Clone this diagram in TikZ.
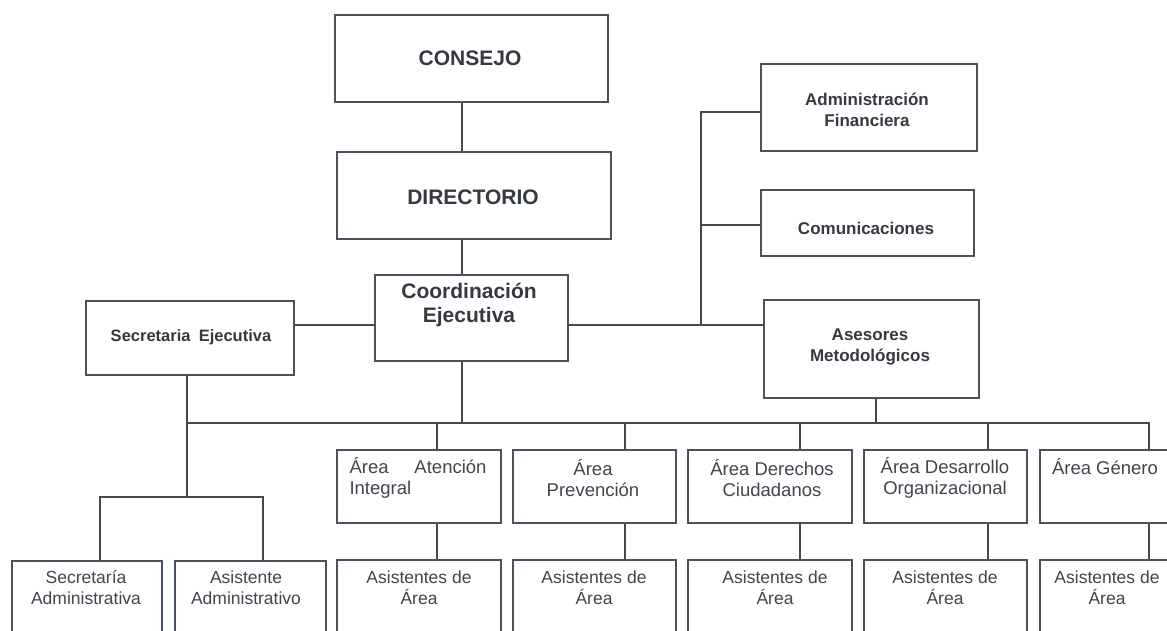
\documentclass[tikz,border=0pt]{standalone}
\usepackage{fontspec}
\setmainfont{Liberation Sans}
\definecolor{linec}{HTML}{45484D}
\definecolor{boxc}{HTML}{4A525E}
\definecolor{txtc}{HTML}{353941}
\definecolor{txtl}{HTML}{40454E}
\tikzset{
  orgbox/.style={draw=boxc, line width=1.6pt, rectangle, inner sep=0pt, anchor=north west},
  conn/.style={draw=linec, line width=1.7pt},
  ttlbig/.style={text=txtc, align=center, inner sep=0pt, font=\fontsize{21}{24}\selectfont\bfseries},
  ttlmid/.style={text=txtc, align=center, inner sep=0pt, font=\fontsize{17}{21}\selectfont\bfseries},
  arealbl/.style={text=txtl, align=center, inner sep=0pt, font=\fontsize{18.5}{21}\selectfont},
  asislbl/.style={text=txtl, align=center, inner sep=0pt, font=\fontsize{17.5}{21}\selectfont},
}
\begin{document}
\begin{tikzpicture}[x=1pt, y=-1pt]
\useasboundingbox (0,0) rectangle (1167,631);
\clip (0,0) rectangle (1167,631);
\fill[white] (0,0) rectangle (1167,631);

% boxes
\node[orgbox, minimum width=273pt, minimum height=87pt] (consejo) at (334,14) {};
\node[orgbox, minimum width=274pt, minimum height=87pt] (directorio) at (336,151) {};
\node[orgbox, minimum width=193pt, minimum height=86pt] (coord) at (374,274) {};
\node[orgbox, minimum width=208pt, minimum height=74pt] (secej) at (85,300) {};
\node[orgbox, minimum width=216pt, minimum height=87pt] (adminfin) at (760,63) {};
\node[orgbox, minimum width=213pt, minimum height=66pt] (com) at (760,189) {};
\node[orgbox, minimum width=215pt, minimum height=98pt] (asesores) at (763,299) {};

\node[orgbox, minimum width=164pt, minimum height=73pt] (a1) at (336,449) {};
\node[orgbox, minimum width=163pt, minimum height=73pt] (a2) at (512,449) {};
\node[orgbox, minimum width=164pt, minimum height=73pt] (a3) at (687,449) {};
\node[orgbox, minimum width=163pt, minimum height=73pt] (a4) at (863,449) {};
\node[orgbox, minimum width=164pt, minimum height=73pt] (a5) at (1039,449) {};

\node[orgbox, minimum width=150pt, minimum height=100pt] (secadm) at (11,560) {};
\node[orgbox, minimum width=151pt, minimum height=100pt] (asisadm) at (174,560) {};
\node[orgbox, minimum width=164pt, minimum height=100pt] (b1) at (336,559) {};
\node[orgbox, minimum width=163pt, minimum height=100pt] (b2) at (512,559) {};
\node[orgbox, minimum width=164pt, minimum height=100pt] (b3) at (687,559) {};
\node[orgbox, minimum width=163pt, minimum height=100pt] (b4) at (863,559) {};
\node[orgbox, minimum width=164pt, minimum height=100pt] (b5) at (1039,559) {};

% texts
\node[ttlbig] (consejot) at (470,58) {CONSEJO};
\node[ttlbig] (directoriot) at (473,197) {DIRECTORIO};
\node[ttlbig] (coordt) at (469,305) {Coordinación\\Ejecutiva};
\node[ttlmid, font=\fontsize{16.5}{20}\selectfont\bfseries] (secejt) at (191,337) {Secretaria\enspace Ejecutiva};
\node[ttlmid] (adminfint) at (867,110) {Administración\\Financiera};
\node[ttlmid] (comt) at (866,228) {Comunicaciones};
\node[ttlmid] (asesorest) at (870,347) {Asesores\\Metodológicos};

\node[arealbl, text width=137pt, align=left] (a1t) at (418,478) {\makebox[137pt][s]{Área\hfill Atención}\\Integral};
\node[arealbl] (a2t) at (593,478) {Área\\Prevención};
\node[arealbl] (a3t) at (772,478) {Área Derechos\\Ciudadanos};
\node[arealbl] (a4t) at (945,478) {Área Desarrollo\\Organizacional};
\node[arealbl] (a5t) at (1105,467) {Área Género};

\node[asislbl] (secadmt) at (86,588) {Secretaría\\Administrativa};
\node[asislbl] (asisadmt) at (246,588) {Asistente\\Administrativo};
\node[asislbl] (b1t) at (419,588) {Asistentes de\\Área};
\node[asislbl] (b2t) at (594,588) {Asistentes de\\Área};
\node[asislbl] (b3t) at (775,588) {Asistentes de\\Área};
\node[asislbl] (b4t) at (945,588) {Asistentes de\\Área};
\node[asislbl] (b5t) at (1107,588) {Asistentes de\\Área};

% helper coordinates
\coordinate (spine) at (462,0);
\coordinate (hl) at (0,325);
\coordinate (rv) at (701,0);
\coordinate (afy) at (0,112);
\coordinate (cmy) at (0,225);
\coordinate (ml) at (187,423);
\coordinate (mlr) at (1150,423);
\coordinate (sbl) at (100,497);
\coordinate (sbr) at (263,497);
\coordinate (asd) at (876,0);
\coordinate (d1) at (437,423);
\coordinate (d2) at (625,423);
\coordinate (d3) at (800,423);
\coordinate (d4) at (988,423);
\coordinate (d5) at (1149,423);

% connectors
\draw[conn] (spine |- consejo.south) -- (spine |- directorio.north);
\draw[conn] (spine |- directorio.south) -- (spine |- coord.north);
\draw[conn] (spine |- coord.south) -- (spine |- ml);
\draw[conn] (secej.east |- hl) -- (coord.west |- hl);
\draw[conn] (coord.east |- hl) -- (asesores.west |- hl);
\draw[conn] (adminfin.west |- afy) -- (rv |- afy) -- (rv |- hl);
\draw[conn] (com.west |- cmy) -- (rv |- cmy);
\draw[conn] (ml) -- (mlr);
\draw[conn] (ml |- secej.south) -- (ml |- sbl);
\draw[conn] (sbl |- secadm.north) -- (sbl) -- (sbr) -- (sbr |- asisadm.north);
\draw[conn] (asd |- asesores.south) -- (asd |- ml);
\foreach \i in {1,...,5}{
  \draw[conn] (d\i) -- (d\i |- a\i.north);
  \draw[conn] (d\i |- a\i.south) -- (d\i |- b\i.north);
}
\end{tikzpicture}
\end{document}
